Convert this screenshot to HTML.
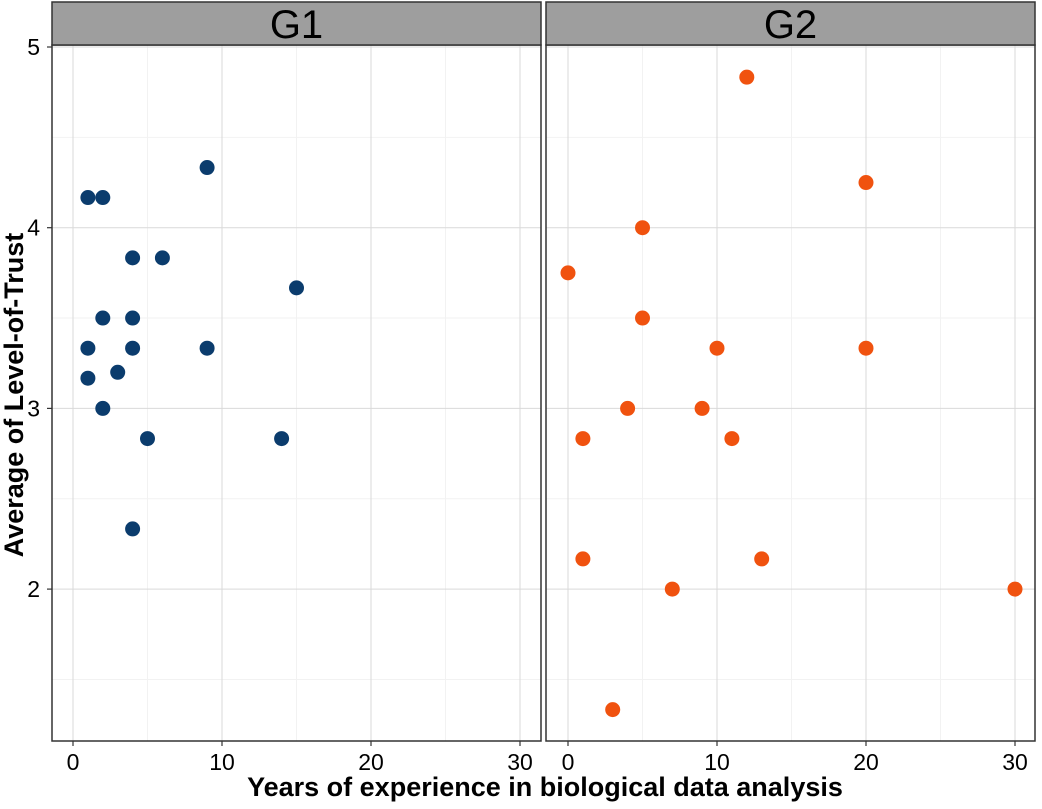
<!DOCTYPE html>
<html><head><meta charset="utf-8"><style>
body{margin:0;background:#fff;}
svg text{font-family:"Liberation Sans",sans-serif;}
</style></head><body>
<svg id="chart" width="1042" height="804">
<g id="panels"></g>
<text x="545" y="796" text-anchor="middle" font-size="27" font-weight="bold">Years of experience in biological data analysis</text>
<text transform="translate(23,395) rotate(-90)" text-anchor="middle" font-size="27" font-weight="bold">Average of Level-of-Trust</text>
</svg>
<script>
const groups = ["G1","G2"];
const colors = ["#0b3c6d","#f0520f"];
const g1X = [1,2,9,4,6,15,2,4,1,4,9,1,3,2,5,14,4];
const g1Y = [4.167,4.167,4.333,3.833,3.833,3.667,3.5,3.5,3.333,3.333,3.333,3.167,3.2,3.0,2.833,2.833,2.333];
const g2X = [12,20,5,0,5,10,20,4,9,1,11,1,13,7,30,3];
const g2Y = [4.833,4.25,4.0,3.75,3.5,3.333,3.333,3.0,3.0,2.833,2.833,2.167,2.167,2.0,2.0,1.333];
const xTicks = [0,10,20,30];
const xMinor = [5,15,25];
const yTicks = [2,3,4,5];
const yMinor = [1.5,2.5,3.5,4.5];

const NS="http://www.w3.org/2000/svg";
const root=document.getElementById('panels');
const panelX=[52,546], zeroOff=[21,22], panelW=489, panelTop=45, panelBottom=741;
function yS(v){return 47+(5-v)*180.7;}
function mk(tag,attrs,parent){const e=document.createElementNS(NS,tag);for(const k in attrs)e.setAttribute(k,attrs[k]);parent.appendChild(e);return e;}
const data=[[g1X,g1Y],[g2X,g2Y]];
groups.forEach((g,i)=>{
  const x0=panelX[i];
  const xS=v=>x0+zeroOff[i]+v*14.9;
  const pg=mk('g',{},root);
  
  
  mk('rect',{x:x0,y:panelTop,width:panelW,height:panelBottom-panelTop,fill:'#fff'},pg);
  yMinor.forEach(v=>mk('line',{x1:x0,x2:x0+panelW,y1:yS(v),y2:yS(v),stroke:'#f2f2f2','stroke-width':1},pg));
  xMinor.forEach(v=>mk('line',{x1:xS(v),x2:xS(v),y1:panelTop,y2:panelBottom,stroke:'#f2f2f2','stroke-width':1},pg));
  yTicks.forEach(v=>mk('line',{x1:x0,x2:x0+panelW,y1:yS(v),y2:yS(v),stroke:'#d9d9d9','stroke-width':1},pg));
  xTicks.forEach(v=>mk('line',{x1:xS(v),x2:xS(v),y1:panelTop,y2:panelBottom,stroke:'#d9d9d9','stroke-width':1},pg));
  const xs=data[i][0], ys=data[i][1];
  xs.forEach((xv,j)=>{
    const c=mk('circle',{cx:xS(xv),cy:yS(ys[j]),r:7.5,fill:colors[i]},pg);
    
    
  });
  mk('rect',{x:x0,y:panelTop,width:panelW,height:panelBottom-panelTop,fill:'none',stroke:'#333','stroke-width':1.5},pg);
  const s=mk('rect',{x:x0,y:2,width:panelW,height:43,fill:'#9e9e9e',stroke:'#333','stroke-width':1.5},pg);
  
  
  const t=mk('text',{x:x0+panelW/2,y:38,'text-anchor':'middle','font-size':40},pg);
  t.textContent=g;
  
  
  xTicks.forEach(v=>{
    mk('line',{x1:xS(v),x2:xS(v),y1:panelBottom,y2:panelBottom+5,stroke:'#333','stroke-width':1.2},pg);
    const tl=mk('text',{x:xS(v),y:770,'text-anchor':'middle','font-size':23,fill:'#000'},pg);
    tl.textContent=v;
    
    
  });
});
yTicks.forEach(v=>{
  mk('line',{x1:47,x2:52,y1:yS(v),y2:yS(v),stroke:'#333','stroke-width':1.2},root);
  const tl=mk('text',{x:40,y:yS(v)+8,'text-anchor':'end','font-size':23,fill:'#000'},root);
  tl.textContent=v;
  
  
});
</script>
</body></html>
